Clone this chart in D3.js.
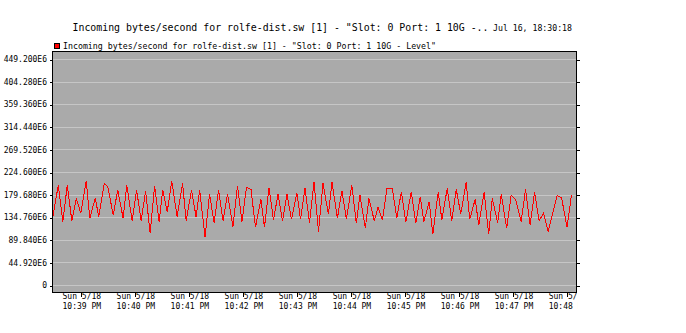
<!DOCTYPE html>
<html>
<head>
<meta charset="utf-8">
<script src="https://cdn.jsdelivr.net/npm/d3@7"></script>
<style>
  body { margin: 0; background: #fff; }
  text { font-family: "DejaVu Sans Mono", monospace; fill: #000; }
</style>
</head>
<body>
<svg id="chart" width="686" height="333"></svg>
<script>
// ---- data ----
const day = "2014-05-18";
const sampleTimes = [
  "22:38:29","22:38:35","22:38:40","22:38:45","22:38:50","22:38:55","22:39:00","22:39:06","22:39:10","22:39:16",
  "22:39:20","22:39:26","22:39:30","22:39:36","22:39:41","22:39:47","22:39:51","22:39:57","22:40:02","22:40:07",
  "22:40:12","22:40:17","22:40:22","22:40:27","22:40:31","22:40:36","22:40:41","22:40:47","22:40:53","22:40:57",
  "22:41:03","22:41:08","22:41:12","22:41:18","22:41:23","22:41:28","22:41:33","22:41:38","22:41:43","22:41:49",
  "22:41:54","22:41:59","22:42:04","22:42:09","22:42:14","22:42:20","22:42:24","22:42:29","22:42:34","22:42:39",
  "22:42:44","22:42:49","22:42:54","22:43:00","22:43:04","22:43:09","22:43:14","22:43:19","22:43:24","22:43:29",
  "22:43:35","22:43:39","22:43:45","22:43:50","22:43:55","22:44:01","22:44:06","22:44:10","22:44:16","22:44:20",
  "22:44:26","22:44:30","22:44:35","22:44:40","22:44:46","22:44:51","22:44:56","22:45:01","22:45:07","22:45:12",
  "22:45:17","22:45:21","22:45:27","22:45:31","22:45:37","22:45:41","22:45:47","22:45:52","22:45:57","22:46:02",
  "22:46:08","22:46:12","22:46:18","22:46:22","22:46:28","22:46:33","22:46:37","22:46:43","22:46:47","22:46:53",
  "22:46:58","22:47:03","22:47:09","22:47:14","22:47:19","22:47:24","22:47:29","22:47:34","22:47:39","22:47:49",
  "22:47:54","22:48:00","22:48:05"
];
// bytes/second, in units of 1E6
const sampleValues = [
  135.8,198.8,125.8,198.8,127.8,172.3,142.5,206.7,132.6,172.3,
  135.8,202.1,195.4,139.1,188.8,132.6,198.8,127.8,188.8,127.8,
  186.8,102.8,197.4,125.8,188.8,145.7,206.7,135.8,202.1,127.8,
  188.8,135.8,188.8,94.8,180.9,123.8,188.8,127.8,180.9,115.9,
  196.8,125.8,194.2,190.2,114.7,170.3,114.7,193.4,129.2,180.3,
  127.8,180.3,130.6,183.5,130.6,192.2,123.8,204.1,105.9,202.1,
  140.5,204.1,132.6,187.4,130.6,198.8,122.6,178.9,112.7,172.3,
  127.2,154.4,129.2,192.2,192.2,132.6,185.4,124.6,185.4,122.6,
  175.5,125.8,165.6,100.8,185.4,129.2,192.2,127.2,190.2,141.1,
  204.1,130.6,170.3,119.3,184.3,100.8,172.3,123.8,180.3,112.7,
  178.9,168.9,125.8,190.2,119.3,184.3,127.8,142.5,105.9,177.5,
  173.5,114.7,178.9
];
const yTickValues = [0, 44.92, 89.84, 134.76, 179.68, 224.6, 269.52, 314.44, 359.36, 404.28, 449.2];
const xTickTimes = ["22:39","22:40","22:41","22:42","22:43","22:44","22:45","22:46","22:47","22:48"];
const timeDomain = ["22:38:28", "22:48:10"];
const titleText = 'Incoming bytes/second for rolfe-dist.sw [1] - "Slot: 0 Port: 1 10G -..';
const stampText = "Jul 16, 18:30:18";
const legendText = 'Incoming bytes/second for rolfe-dist.sw [1] - "Slot: 0 Port: 1 10G - Level"';

// ---- layout ----
const plot = {left: 52, right: 576, top: 51, bottom: 292};
const svg = d3.select("#chart");
const parseSec = d3.timeParse("%Y-%m-%d %H:%M:%S");
const parseMin = d3.timeParse("%Y-%m-%d %H:%M");

const x = d3.scaleTime()
  .domain(timeDomain.map(t => parseSec(day + " " + t)))
  .range([plot.left, plot.right]);
const y = d3.scaleLinear()
  .domain([0, 449.2])
  .range([285, 59]);

const data = sampleTimes.map((t, i) => ({t: parseSec(day + " " + t), v: sampleValues[i]}));
const xTicks = xTickTimes.map(t => parseMin(day + " " + t));

// background
svg.append("rect")
  .attr("x", plot.left).attr("y", plot.top)
  .attr("width", plot.right - plot.left).attr("height", plot.bottom - plot.top)
  .attr("fill", "#aaaaaa");

// grid lines
svg.append("g").selectAll("line")
  .data(yTickValues)
  .enter().append("line")
    .attr("x1", plot.left).attr("x2", plot.right)
    .attr("y1", d => Math.round(y(d)) + 0.5)
    .attr("y2", d => Math.round(y(d)) + 0.5)
    .attr("stroke", "#c6c6c6")
    .attr("stroke-width", 1)
    .attr("shape-rendering", "crispEdges");

// series
const line = d3.line().x(d => x(d.t)).y(d => y(d.v));
svg.append("path")
  .datum(data)
  .attr("d", line)
  .attr("fill", "none")
  .attr("stroke", "#ff0000")
  .attr("stroke-width", 1)
  .attr("shape-rendering", "crispEdges");

// frame
svg.append("rect")
  .attr("x", plot.left + 0.5).attr("y", plot.top + 0.5)
  .attr("width", plot.right - plot.left).attr("height", plot.bottom - plot.top)
  .attr("fill", "none")
  .attr("stroke", "#000")
  .attr("shape-rendering", "crispEdges");

// left axis
const yFmt = d => d === 0 ? "0" : d.toFixed(3) + "E6";
const leftAxis = svg.append("g")
  .attr("transform", `translate(${plot.left},0.5)`)
  .call(d3.axisLeft(y).tickValues(yTickValues).tickSize(2).tickPadding(3).tickFormat(yFmt));
leftAxis.select(".domain").remove();
leftAxis.selectAll("text").style("font-size", "8px").attr("dy", "0.28em");
leftAxis.selectAll("line").attr("shape-rendering", "crispEdges");
leftAxis.attr("font-family", null).attr("font-size", null);

// right axis ticks
const rightAxis = svg.append("g")
  .attr("transform", `translate(${plot.right + 1},0.5)`)
  .call(d3.axisRight(y).tickValues(yTickValues).tickSize(3).tickFormat(""));
rightAxis.select(".domain").remove();
rightAxis.selectAll("line").attr("shape-rendering", "crispEdges");

// bottom axis, labels clipped at the frame's right edge
svg.append("clipPath").attr("id", "xclip")
  .append("rect").attr("x", 0).attr("y", 0).attr("width", 577).attr("height", 333);
const bottomAxis = svg.append("g")
  .attr("transform", `translate(0.5,${plot.bottom + 1})`)
  .attr("clip-path", "url(#xclip)")
  .call(d3.axisBottom(x).tickValues(xTicks).tickSize(4).tickFormat(""));
bottomAxis.select(".domain").remove();
bottomAxis.selectAll("line").attr("shape-rendering", "crispEdges");
const dayFmt = d3.timeFormat("%a %-m/%d");
const hourFmt = d3.timeFormat("%-I:%M %p");
bottomAxis.selectAll(".tick").each(function(d) {
  const g = d3.select(this);
  g.select("text").remove();
  g.append("text").attr("y", 6).attr("text-anchor", "middle")
    .style("font-size", "8px").text(dayFmt(d));
  g.append("text").attr("y", 16).attr("text-anchor", "middle")
    .style("font-size", "8px").text(hourFmt(d));
});
bottomAxis.attr("font-family", null).attr("font-size", null);

// title
svg.append("text")
  .attr("x", 72.5).attr("y", 31)
  .style("font-size", "10px")
  .attr("textLength", 416).attr("lengthAdjust", "spacingAndGlyphs")
  .text(titleText);
svg.append("text")
  .attr("x", 493).attr("y", 31)
  .style("font-size", "8px")
  .attr("textLength", 79).attr("lengthAdjust", "spacingAndGlyphs")
  .text(stampText);

// legend
svg.append("rect")
  .attr("x", 54.5).attr("y", 43.5).attr("width", 5).attr("height", 5)
  .attr("fill", "#ff0000").attr("stroke", "#000")
  .attr("shape-rendering", "crispEdges");
svg.append("text")
  .attr("x", 63).attr("y", 48.5)
  .style("font-size", "8px")
  .attr("textLength", 373).attr("lengthAdjust", "spacingAndGlyphs")
  .text(legendText);
</script>
</body>
</html>
